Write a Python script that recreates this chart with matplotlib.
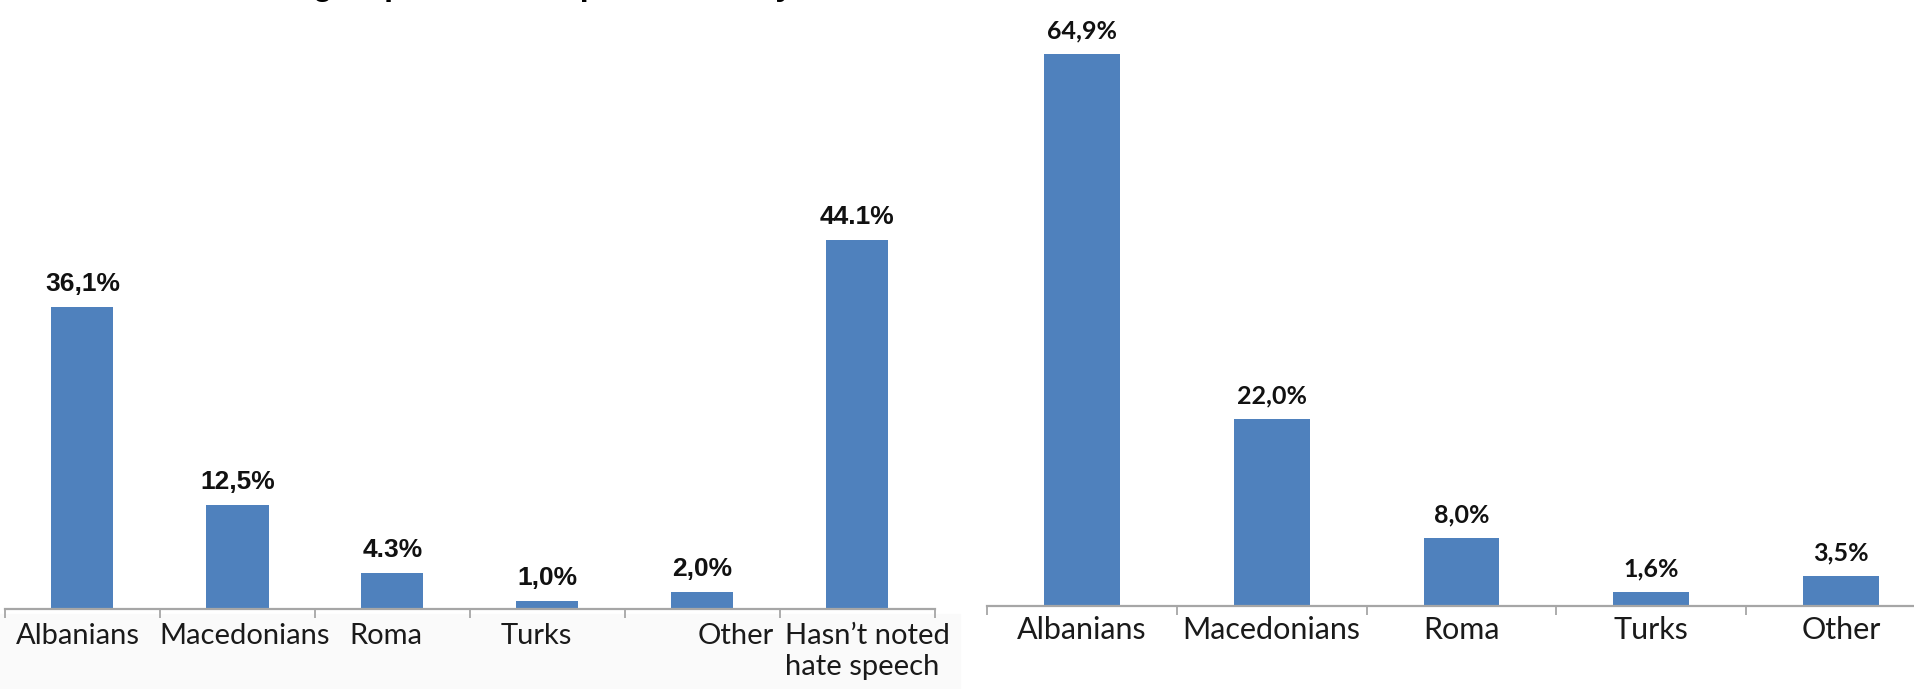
"""Two bar charts: ethnic groups noted as targets of hate speech."""

import matplotlib

matplotlib.use("Agg")

import matplotlib.pyplot as plt
import numpy as np
from matplotlib.patches import Rectangle

# left panel
left_cats = ["Albanians", "Macedonians", "Roma", "Turks", "Other", "Hasn\u2019t noted\nhate speech"]
left_vals = [36.1, 12.5, 4.3, 1.0, 2.0, 44.1]
left_labels = ["36,1%", "12,5%", "4.3%", "1,0%", "2,0%", "44.1%"]

# right panel
right_cats = ["Albanians", "Macedonians", "Roma", "Turks", "Other"]
right_vals = [64.9, 22.0, 8.0, 1.6, 3.5]
right_labels = ["64,9%", "22,0%", "8,0%", "1,6%", "3,5%"]

# only the descenders of this heading survive at the top edge
title = "Which ethnic groups felt hate speech, mostly"

# the left category labels are not quite centred under their bars (points)
left_label_shift = [-3, 5, -5, -8, 24, 7]

BLUE = "#4f81bd"
AXIS = "#a6a6a6"
W, H = 1915, 689
DPI = 100


def bar_panel(fig, rect, cats, vals, labels, ymax, val_font, val_size):
    ax = fig.add_axes(rect)
    x = np.arange(len(cats))
    ax.bar(x, vals, width=0.4, color=BLUE, zorder=2)
    for xi, v, lab in zip(x, vals, labels):
        ax.annotate(lab, (xi, v), xytext=(0, 11.5), textcoords="offset points",
                    ha="center", va="baseline", fontsize=val_size,
                    fontweight="bold", family=val_font, color="#111111")
    ax.set_xlim(-0.5, len(cats) - 0.5)
    ax.set_ylim(0, ymax)
    ax.set_xticks(np.arange(len(cats) + 1) - 0.5)
    ax.set_xticklabels([])
    ax.tick_params(axis="x", length=6.5, width=1.3, color=AXIS)
    ax.set_yticks([])
    for s in ["top", "right", "left"]:
        ax.spines[s].set_visible(False)
    ax.spines["bottom"].set_color(AXIS)
    ax.spines["bottom"].set_linewidth(1.6)
    ax.patch.set_alpha(0)
    return ax


def cat_labels(ax, cats, size, pad, shifts):
    for xi, (cat, dx) in enumerate(zip(cats, shifts)):
        ax.annotate(cat, (xi, 0), xycoords=("data", "axes fraction"),
                    xytext=(dx, -pad), textcoords="offset points",
                    ha="center", va="top", multialignment="left",
                    fontsize=size, family="Lato", color="#1a1a1a",
                    linespacing=1.25)


fig = plt.figure(figsize=(W / DPI, H / DPI), dpi=DPI)

# faint grey strip under the left chart, behind everything
fig.add_artist(Rectangle((0, 0), 960 / W, 75 / H, transform=fig.transFigure,
                         color="#fafafa", zorder=-5))

left_ax = bar_panel(fig, [5 / W, 80 / H, 930 / W, 609 / H], left_cats, left_vals,
                    left_labels, 609 / 8.36, "Liberation Sans", 19)
cat_labels(left_ax, left_cats, 21, 10, left_label_shift)

right_ax = bar_panel(fig, [987 / W, 83 / H, 949 / W, 606 / H], right_cats, right_vals,
                     right_labels, 606 / 8.5, "Lato", 18)
cat_labels(right_ax, right_cats, 22, 7, [0] * len(right_cats))

fig.text(105 / W, 1 + 5.5 / H, title, fontsize=23, fontweight="bold",
         family="Liberation Sans", ha="left", va="baseline")

fig.savefig("out.png", dpi=DPI)
plt.close(fig)
